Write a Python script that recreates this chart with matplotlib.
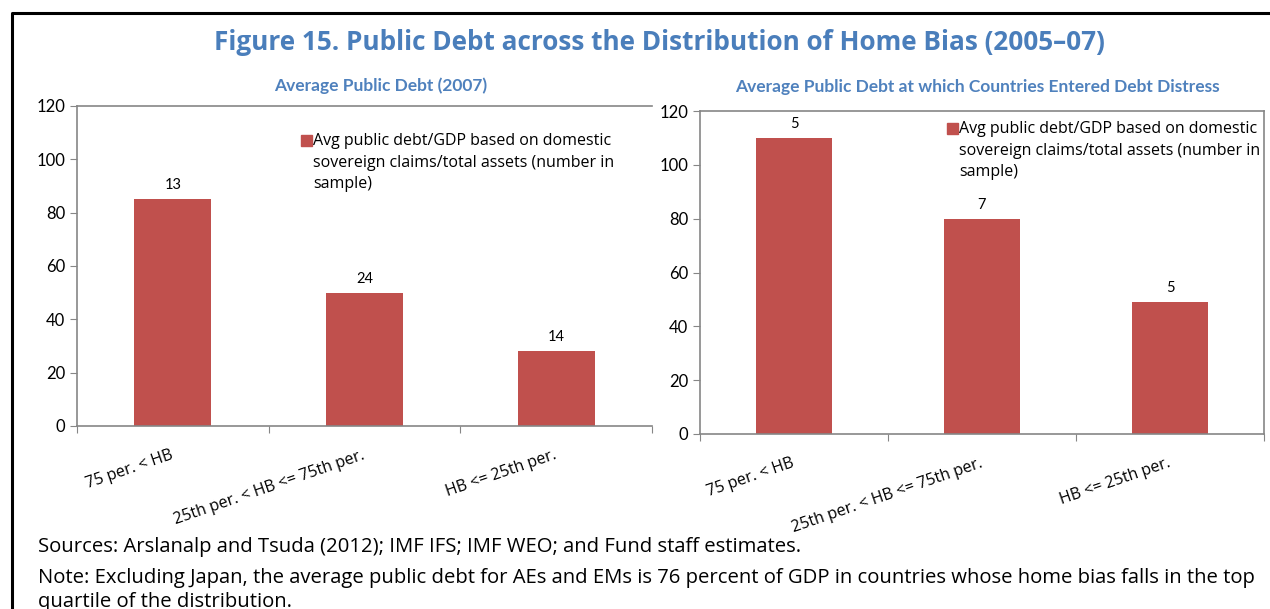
"""Figure 15: public debt across the distribution of home bias (2005-07)."""

import matplotlib.pyplot as plt
import numpy as np
from matplotlib.lines import Line2D
from matplotlib.patches import Rectangle

CATEGORIES = ["75 per. < HB", "25th per. < HB <= 75th per.", "HB <= 25th per."]
DEBT_2007 = [85, 50, 28]
COUNT_2007 = [13, 24, 14]
DEBT_DISTRESS = [110, 80, 49]
COUNT_DISTRESS = [5, 7, 5]

BAR_COLOR = "#C0504D"
TITLE_COLOR = "#4A7EBB"
SUB_COLOR = "#4F81BD"
SPINE_COLOR = "#868686"
LEGEND_TEXT = ("Avg public debt/GDP based on domestic\n"
               "sovereign claims/total assets (number in\n"
               "sample)")

W, H = 1270, 609

plt.rcParams.update({"font.family": ["Open Sans", "DejaVu Sans"]})

fig = plt.figure(figsize=(W / 100, H / 100), dpi=100)


def fx(px):
    return px / W


def fy(py):
    return 1 - py / H


def panel(rect, values, counts, subtitle, sub_x, sub_y, legend_xy, boxed):
    ax = fig.add_axes(rect)
    x = np.arange(len(values))
    ax.bar(x, values, width=0.4, color=BAR_COLOR, zorder=2)
    for xi, v, n in zip(x, values, counts):
        ax.annotate(str(n), (xi, v), xytext=(0, 5), textcoords="offset points",
                    ha="center", va="bottom", fontsize=10.5, family="Lato")
    ax.set_xlim(-0.5, len(values) - 0.5)
    ax.set_ylim(0, 120)
    ax.set_yticks(np.arange(0, 121, 20))
    ax.set_xticks(np.arange(-0.5, len(values), 1.0))
    ax.set_xticklabels([])
    ax.tick_params(axis="both", direction="out", length=5, color=SPINE_COLOR,
                   labelsize=12)
    for lab in ax.get_yticklabels():
        lab.set_family("Lato")
    for side in ("left", "bottom", "top", "right"):
        ax.spines[side].set_color(SPINE_COLOR)
        ax.spines[side].set_linewidth(1.2)
    ax.spines["right"].set_visible(boxed)

    # rotated category labels hanging from each bar centre
    for xi, cat in zip(x, CATEGORIES):
        ax.annotate(cat, (xi, 0), xytext=(0, -21), textcoords="offset points",
                    rotation=19, ha="right", va="center", rotation_mode="anchor",
                    fontsize=11.5)

    # legend: square swatch with wrapped text
    lx, ly = legend_xy
    fig.patches.append(Rectangle((fx(lx), fy(ly + 6)), fx(11), 11 / H,
                                 transform=fig.transFigure, color=BAR_COLOR))
    fig.text(fx(lx + 12), fy(ly - 7), LEGEND_TEXT, ha="left", va="top",
             fontsize=11.5, linespacing=1.47)

    fig.text(fx(sub_x), fy(sub_y), subtitle, ha="center", va="center",
             fontsize=12.5, fontweight="bold", color=SUB_COLOR, family="Lato")
    return ax


panel([fx(77), fy(426), fx(652 - 77), (426 - 106) / H], DEBT_2007, COUNT_2007,
      "Average Public Debt (2007)", 381, 86, (301, 140), False)
panel([fx(700), fy(434), fx(1264 - 700), (434 - 111) / H], DEBT_DISTRESS,
      COUNT_DISTRESS, "Average Public Debt at which Countries Entered Debt Distress",
      977, 87, (947, 128), True)

fig.text(fx(659), fy(42), "Figure 15. Public Debt across the Distribution of Home Bias (2005\u201307)",
         ha="center", va="center", fontsize=18.8, fontweight="bold", color=TITLE_COLOR)

fig.text(fx(38), fy(547), "Sources: Arslanalp and Tsuda (2012); IMF IFS; IMF WEO; and Fund staff estimates.",
         ha="left", va="center", fontsize=14.6)
fig.text(fx(38), fy(578), "Note: Excluding Japan, the average public debt for AEs and EMs is 76 percent "
         "of GDP in countries whose home bias falls in the top",
         ha="left", va="center", fontsize=14.6)
fig.text(fx(38), fy(602), "quartile of the distribution.", ha="left", va="center", fontsize=14.6)

# outer frame, left and top edges
fig.lines.append(Line2D([fx(12), fx(12), 1.0], [0.0, fy(13), fy(13)],
                        transform=fig.transFigure, color="black", lw=2.2))

fig.savefig("out.png", dpi=100)
